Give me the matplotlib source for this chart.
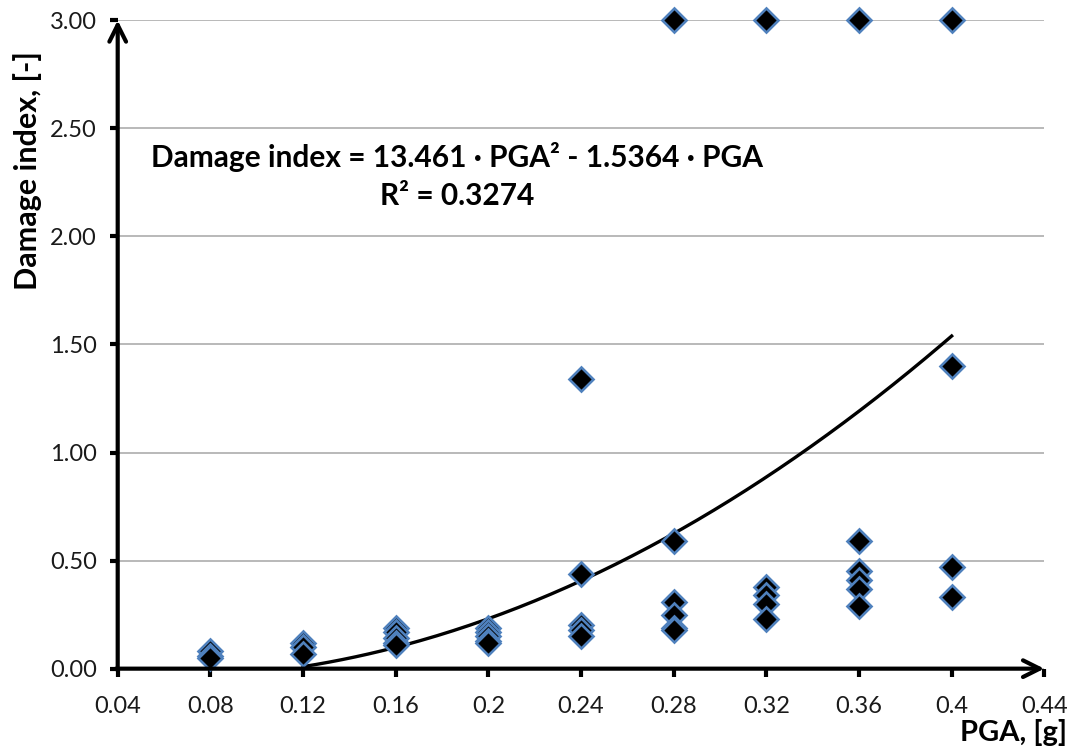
import numpy as np
import matplotlib
matplotlib.use("Agg")
import matplotlib.pyplot as plt

plt.rcParams['font.family'] = ['Lato', 'DejaVu Sans']

# Damage index for every record, grouped by PGA level
pga = ([0.08] * 3 + [0.12] * 3 + [0.16] * 5 + [0.2] * 5 + [0.24] * 5
       + [0.28] * 6 + [0.32] * 5 + [0.36] * 6 + [0.4] * 4)
damage = [0.08, 0.06, 0.05,
          0.12, 0.10, 0.07,
          0.19, 0.17, 0.14, 0.12, 0.11,
          0.19, 0.17, 0.15, 0.13, 0.12,
          1.34, 0.44, 0.20, 0.18, 0.15,
          3.00, 0.59, 0.31, 0.25, 0.19, 0.18,
          3.00, 0.38, 0.34, 0.30, 0.23,
          3.00, 0.59, 0.45, 0.41, 0.37, 0.29,
          3.00, 1.40, 0.47, 0.33]

# quadratic trend through the origin
coef_a = 13.461
coef_b = -1.5364
r2 = 0.3274
fit_start, fit_end = 0.12, 0.4

x_ticks = [0.04, 0.08, 0.12, 0.16, 0.2, 0.24, 0.28, 0.32, 0.36, 0.4, 0.44]
x_labels = ['0.04', '0.08', '0.12', '0.16', '0.2', '0.24', '0.28', '0.32', '0.36', '0.4', '0.44']
y_ticks = [0.0, 0.5, 1.0, 1.5, 2.0, 2.5, 3.0]

fig = plt.figure(figsize=(10.7, 7.53), dpi=100)
ax = fig.add_axes([0.110, 0.112, 0.866, 0.861])

ax.set_xlim(0.04, 0.44)
ax.set_ylim(0, 3.0)

# horizontal grid only
ax.set_yticks(y_ticks)
ax.set_yticklabels(['%.2f' % v for v in y_ticks])
ax.set_xticks(x_ticks)
ax.set_xticklabels(x_labels)
ax.yaxis.grid(True, color='#a6a6a6', lw=1.1)
ax.set_axisbelow(True)

xs = np.linspace(fit_start, fit_end, 200)
ax.plot(xs, coef_a * xs ** 2 + coef_b * xs, color='black', lw=2.4, zorder=2)

ax.plot(pga, damage, linestyle='none', marker='D', markersize=12,
        markerfacecolor='black', markeredgecolor='#4f81bd',
        markeredgewidth=1.9, zorder=3, clip_on=False)

# axes drawn as arrows
for side in ['left', 'bottom', 'right', 'top']:
    ax.spines[side].set_visible(False)
arrow = dict(arrowstyle='->', lw=3, color='black', mutation_scale=30,
             shrinkA=0, shrinkB=0)
ax.annotate('', xy=(1.0, 0), xytext=(-0.002, 0), xycoords='axes fraction',
            arrowprops=arrow, annotation_clip=False)
ax.annotate('', xy=(0, 1.0), xytext=(0, -0.003), xycoords='axes fraction',
            arrowprops=arrow, annotation_clip=False)

ax.tick_params(axis='both', direction='out', length=6, width=3,
               labelsize=17, colors='black', labelcolor='#1a1a1a')
ax.tick_params(axis='y', pad=9)
ax.tick_params(axis='x', pad=14)

ax.text(0.366, 0.76,
        'Damage index = %.3f · PGA² - %.4f · PGA\nR² = %.4f' % (coef_a, -coef_b, r2),
        transform=ax.transAxes, ha='center', va='center', fontsize=21.5,
        fontweight='bold', linespacing=1.4, multialignment='center')

fig.text(0.026, 0.774, 'Damage index, [-]', rotation=90, ha='center', va='center',
         fontsize=22, fontweight='bold')
fig.text(0.997, 0.027, 'PGA, [g]', ha='right', va='center',
         fontsize=21, fontweight='bold')

fig.savefig('out.png', dpi=100)
